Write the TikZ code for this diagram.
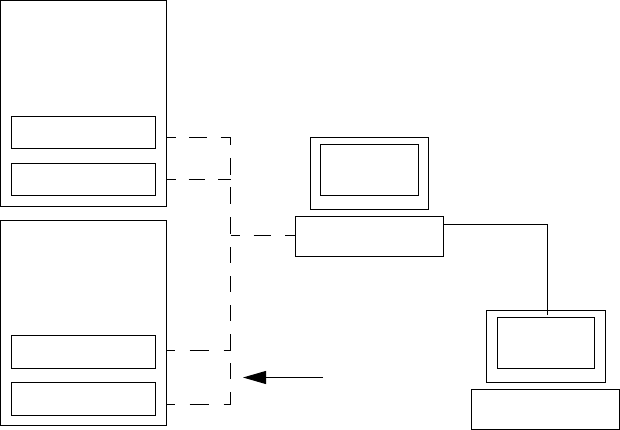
\documentclass[tikz,border=0pt]{standalone}
\usetikzlibrary{arrows.meta}
\tikzset{
  boxn/.style={draw=black,fill=white,line width=1pt,minimum width=#1,inner sep=0pt,outer sep=0pt,rectangle},
  link/.style={line width=1pt,black},
  dlink/.style={link,dash pattern=on 18pt off 13.5pt,dash phase=9pt},
  dlinkb/.style={link,dash pattern=on 19pt off 15pt,dash phase=11pt},
  dlinkc/.style={link,dash pattern=on 16.5pt off 13pt,dash phase=7.5pt},
  dlinkd/.style={link,dash pattern=on 17.5pt off 14pt,dash phase=8.5pt},
}
\newcommand{\bx}[5]{\node[boxn=#4pt-#2pt,minimum height=#5pt-#3pt,anchor=north west] (#1) at (#2,#3) {};}
\begin{document}
\begin{tikzpicture}[x=1pt,y=-1pt]
\useasboundingbox (0,0) rectangle (620,430);
\bx{srvA}{0.5}{0.5}{166.5}{206.5}
\bx{a1}{11.5}{116.5}{155.5}{148.5}
\bx{a2}{11.5}{163.5}{155.5}{195.5}
\bx{srvB}{0.5}{220.5}{166.5}{425.5}
\bx{b1}{11.5}{335.5}{155.5}{368.5}
\bx{b2}{11.5}{382.5}{155.5}{415.5}
\bx{mon1}{310.5}{137.5}{428.5}{209.5}
\bx{scr1}{320.5}{144.5}{418.5}{195.5}
\bx{base1}{295.5}{216.5}{443.5}{256.5}
\bx{mon2}{486.5}{310.5}{605.5}{382.5}
\bx{scr2}{497.5}{317.5}{594.5}{368.5}
\bx{base2}{471.5}{389.5}{619.5}{429.5}
\coordinate (ca1) at (srvA.east|-0,137.5);
\coordinate (ca2) at (srvA.east|-0,179.5);
\coordinate (cb1) at (srvB.east|-0,350.5);
\coordinate (cb2) at (srvB.east|-0,404.5);
\coordinate (busT) at (230.5,137.5);
\coordinate (busM) at (230.5,235.5);
\coordinate (busL) at (230.5,247);
\coordinate (busB) at (230.5,404.5);
\coordinate (pc) at (base1.west|-0,235.5);
\draw[dlink] (ca1) -- (busT);
\draw[link,dash pattern=on 17pt off 12.5pt,dash phase=9pt] (busT) -- (busM);
\draw[dlinkc] (ca2) -- (busT|-ca2);
\draw[dlinkd] (busM) -- (pc);
\draw[link,dash pattern=on 16pt off 13pt] (busL) -- (busB);
\draw[dlinkb] (cb1) -- (busT|-cb1);
\draw[dlinkb] (cb2) -- (busB);
\coordinate (arrS) at (323,377.5);
\coordinate (arrE) at (243,377.5);
\draw[link,-{Triangle[length=23pt,width=13pt]}] (arrS) -- (arrE);
\draw[link] (base1.east|-0,224.5) -- (547.5,224.5) -- (547.5,315);
\end{tikzpicture}
\end{document}
